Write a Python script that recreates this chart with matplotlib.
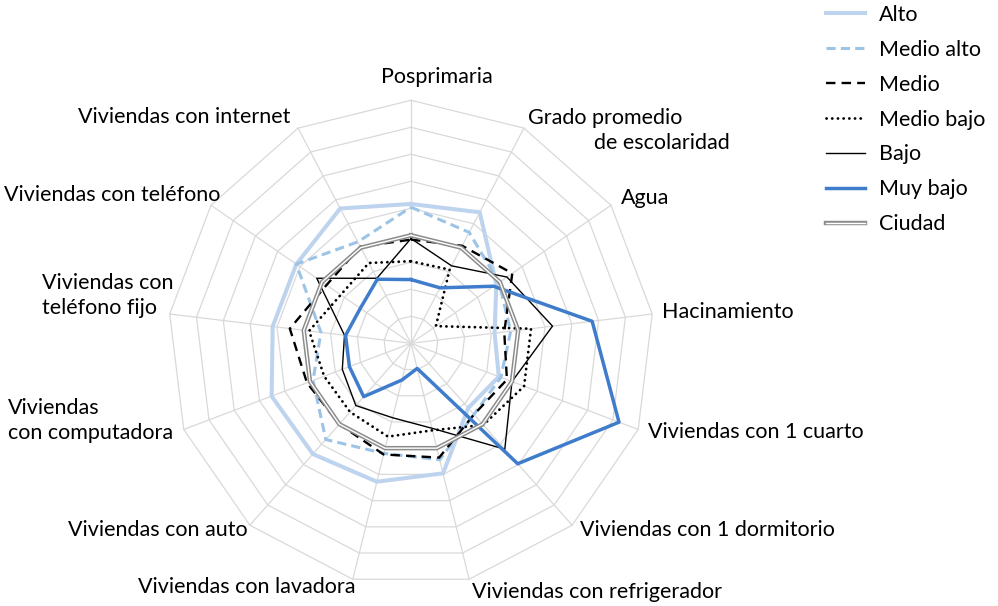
import numpy as np
import matplotlib
matplotlib.use("Agg")
import matplotlib.pyplot as plt
import matplotlib.patheffects as pe

plt.rcParams['font.family'] = ['Lato', 'DejaVu Sans']

# categories (clockwise from top)
categorias = ["Posprimaria", "Grado promedio\nde escolaridad", "Agua", "Hacinamiento",
              "Viviendas con 1 cuarto", "Viviendas con 1 dormitorio",
              "Viviendas con refrigerador", "Viviendas con lavadora",
              "Viviendas con auto", "Viviendas\ncon computadora",
              "Viviendas con\nteléfono fijo", "Viviendas con teléfono",
              "Viviendas con internet"]

# values relative to the city average (Ciudad = 1)
alto       = [1.29, 1.37, 0.96, 0.78, 0.87, 0.80, 1.24, 1.32, 1.37, 1.38, 1.29, 1.29, 1.41]
medio_alto = [1.26, 1.16, 0.99, 0.93, 0.89, 0.88, 1.11, 1.05, 1.19, 0.97, 0.84, 1.29, 1.06]
medio      = [0.96, 1.02, 1.14, 0.87, 0.95, 0.88, 1.09, 1.06, 1.00, 1.03, 1.13, 0.95, 1.01]
medio_bajo = [0.76, 0.77, 0.28, 1.12, 1.12, 1.01, 0.83, 0.89, 0.85, 0.86, 0.95, 0.79, 0.84]
bajo       = [0.97, 0.81, 1.08, 1.32, 1.00, 1.31, 0.81, 0.71, 0.77, 0.68, 0.62, 1.06, 0.68]
muy_bajo   = [0.59, 0.58, 0.93, 1.69, 2.06, 1.49, 0.24, 0.35, 0.66, 0.61, 0.61, 0.57, 0.67]
ciudad     = [1.00] * 13

r_max = 2.25
r_step = 0.25

W, H = 998, 606
fig = plt.figure(figsize=(W / 100, H / 100), dpi=100)
ax = fig.add_axes([0.1683, 0.0325, 0.487, 0.802], projection='polar')
ax.set_theta_zero_location('N')
ax.set_theta_direction(-1)
ax.set_ylim(0, r_max)
ax.axis('off')

n = len(categorias)
ang = np.linspace(0, 2 * np.pi, n, endpoint=False)
ang_c = np.append(ang, ang[0])

# polygon grid
grid_col = '#d9d9d9'
for r in np.arange(r_step, r_max + 1e-9, r_step):
    ax.plot(ang_c, [r] * (n + 1), color=grid_col, lw=0.9, clip_on=False, zorder=1)
for a in ang:
    ax.plot([a, a], [0, r_max], color=grid_col, lw=0.9, clip_on=False, zorder=1)

def closed(v):
    return list(v) + [v[0]]

ax.plot(ang_c, closed(alto), color='#bdd3ee', lw=2.9, label='Alto', zorder=2)
ax.plot(ang_c, closed(medio_alto), color='#9dc3e6', lw=2.2, dashes=(3, 1.7),
        label='Medio alto', zorder=3)
ax.plot(ang_c, closed(medio), color='black', lw=1.7, dashes=(4, 2.6),
        label='Medio', zorder=4)
ax.plot(ang_c, closed(medio_bajo), color='black', lw=2.0, dashes=(0.05, 2.0),
        dash_capstyle='round', label='Medio bajo', zorder=5)
ax.plot(ang_c, closed(bajo), color='black', lw=1.0, label='Bajo', zorder=6)
ax.plot(ang_c, closed(muy_bajo), color='#3f7dcc', lw=2.5, label='Muy bajo', zorder=7)
ax.plot(ang_c, closed(ciudad), color='white', lw=1.0, label='Ciudad', zorder=8,
        path_effects=[pe.Stroke(linewidth=3.2, foreground='#8c8c8c'), pe.Normal()])

# category labels: (x, y, ha) per line, pixel coordinates from top-left
etiquetas = [
    [(437, 77, 'center')],
    [(528, 118, 'left'), (730, 143, 'right')],
    [(621, 198, 'left')],
    [(662, 312, 'left')],
    [(648, 432, 'left')],
    [(580, 530, 'left')],
    [(472, 592, 'left')],
    [(355, 587, 'right')],
    [(248, 530, 'right')],
    [(8, 408, 'left'), (8, 433, 'left')],
    [(42, 283, 'left'), (42, 308, 'left')],
    [(4, 195, 'left')],
    [(290, 117, 'right')],
]
fs = 15.5
for cat, pos in zip(categorias, etiquetas):
    for line, (x, y, ha) in zip(cat.split('\n'), pos):
        fig.text(x / W, 1 - y / H, line, ha=ha, va='center', fontsize=fs, color='black')

fig.legend(loc='upper left', bbox_to_anchor=(826 / W, 1 - 5 / H), frameon=False,
           fontsize=fs, handlelength=1.81, handletextpad=0.65, labelspacing=0.69,
           borderpad=0, borderaxespad=0)

fig.savefig('out.png', dpi=100)
